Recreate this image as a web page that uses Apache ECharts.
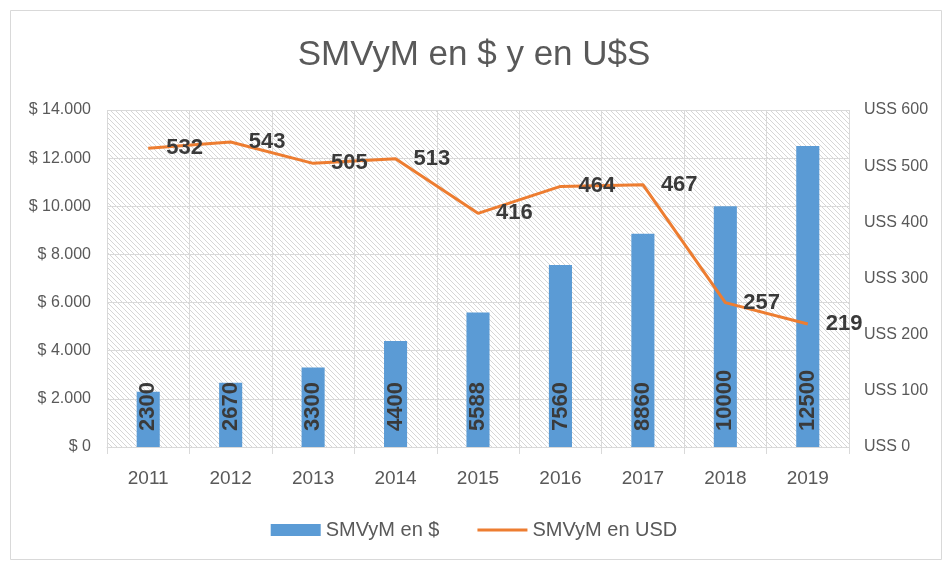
<!DOCTYPE html>
<html>
<head>
<meta charset="utf-8">
<script src="https://cdn.jsdelivr.net/npm/echarts@6/dist/echarts.min.js"></script>
<style>
  html, body { margin: 0; padding: 0; background: #fff; }
  #chart { width: 948px; height: 565px; }
</style>
</head>
<body>
<div id="chart"></div>
<script>
  const years = ["2011", "2012", "2013", "2014", "2015", "2016", "2017", "2018", "2019"];
  const smvmPesos = [2300, 2670, 3300, 4400, 5588, 7560, 8860, 10000, 12500];
  const smvmUsd = [532, 543, 505, 513, 416, 464, 467, 257, 219];
  const seriesNames = ["SMVyM en $", "SMVyM en USD"];

  const COLORS = { bar: "#5b9bd5", line: "#ed7d31", text: "#595959", label: "#3a3a3a", grid: "#d9d9d9" };
  const FONT = "'Liberation Sans', 'DejaVu Sans', sans-serif";

  // diagonal hatch for the plot area
  function hatch() {
    const c = document.createElement("canvas");
    c.width = 5; c.height = 5;
    const g = c.getContext("2d");
    g.fillStyle = "#fff";
    g.fillRect(0, 0, 5, 5);
    g.strokeStyle = "#d6d6d6";
    g.lineWidth = 1;
    [-5, 0, 5].forEach((k) => {
      g.beginPath();
      g.moveTo(k, 0);
      g.lineTo(k + 5, 5);
      g.stroke();
    });
    return c;
  }

  const fmtPesos = (v) => "$ " + String(v).replace(/\B(?=(\d{3})+(?!\d))/g, ".");

  const chart = echarts.init(document.getElementById("chart"));
  chart.setOption({
    backgroundColor: "#fff",
    animation: false,
    textStyle: { fontFamily: FONT },
    graphic: [{
      type: "rect", left: 8, top: 8,
      shape: { width: 931, height: 549 },
      style: { fill: "none", stroke: "#d9d9d9", lineWidth: 1 },
      silent: true, z: -1,
    }],
    title: {
      text: "SMVyM en $ y en U$S",
      left: "center", top: 33,
      textStyle: { fontSize: 35, fontWeight: "normal", color: COLORS.text, fontFamily: FONT },
    },
    grid: {
      left: 107, right: 99, top: 110, bottom: 118,
      show: true, borderWidth: 0,
      backgroundColor: { image: hatch(), repeat: "repeat" },
    },
    legend: {
      bottom: 20, left: "center", itemGap: 38,
      itemWidth: 50, itemHeight: 12,
      textStyle: { fontSize: 20, color: COLORS.text },
      data: [
        { name: seriesNames[0], icon: "rect" },
        { name: seriesNames[1], icon: "path://M0,0 L50,0 L50,3 L0,3 Z" },
      ],
    },
    xAxis: {
      type: "category",
      data: years,
      axisLine: { lineStyle: { color: COLORS.grid } },
      axisTick: { show: true, length: 7, lineStyle: { color: COLORS.grid } },
      axisLabel: { fontSize: 19, color: COLORS.text, margin: 22 },
      splitLine: { show: true, lineStyle: { color: COLORS.grid } },
    },
    yAxis: [
      {
        type: "value", min: 0, max: 14000, interval: 2000,
        axisLine: { show: false }, axisTick: { show: false },
        axisLabel: { fontSize: 16, color: COLORS.text, margin: 16, formatter: fmtPesos },
        splitLine: { lineStyle: { color: COLORS.grid } },
      },
      {
        type: "value", min: 0, max: 600, interval: 100,
        axisLine: { show: false }, axisTick: { show: false },
        axisLabel: { fontSize: 16, color: COLORS.text, margin: 15, formatter: (v) => "USS " + v },
        splitLine: { show: false },
      },
    ],
    series: [
      {
        name: seriesNames[0],
        type: "bar",
        data: smvmPesos,
        barWidth: "28%",
        itemStyle: { color: COLORS.bar },
        label: {
          show: true,
          position: "insideBottom",
          distance: 16,
          rotate: 90,
          align: "left",
          verticalAlign: "middle",
          fontSize: 22,
          fontWeight: "bold",
          color: COLORS.label,
        },
      },
      {
        name: seriesNames[1],
        type: "line",
        yAxisIndex: 1,
        data: smvmUsd,
        symbol: "circle",
        symbolSize: 0,
        lineStyle: { color: COLORS.line, width: 3 },
        itemStyle: { color: COLORS.line },
        label: {
          show: true,
          position: "right",
          distance: 18,
          fontSize: 22,
          fontWeight: "bold",
          color: COLORS.label,
        },
      },
    ],
  });
</script>
</body>
</html>
